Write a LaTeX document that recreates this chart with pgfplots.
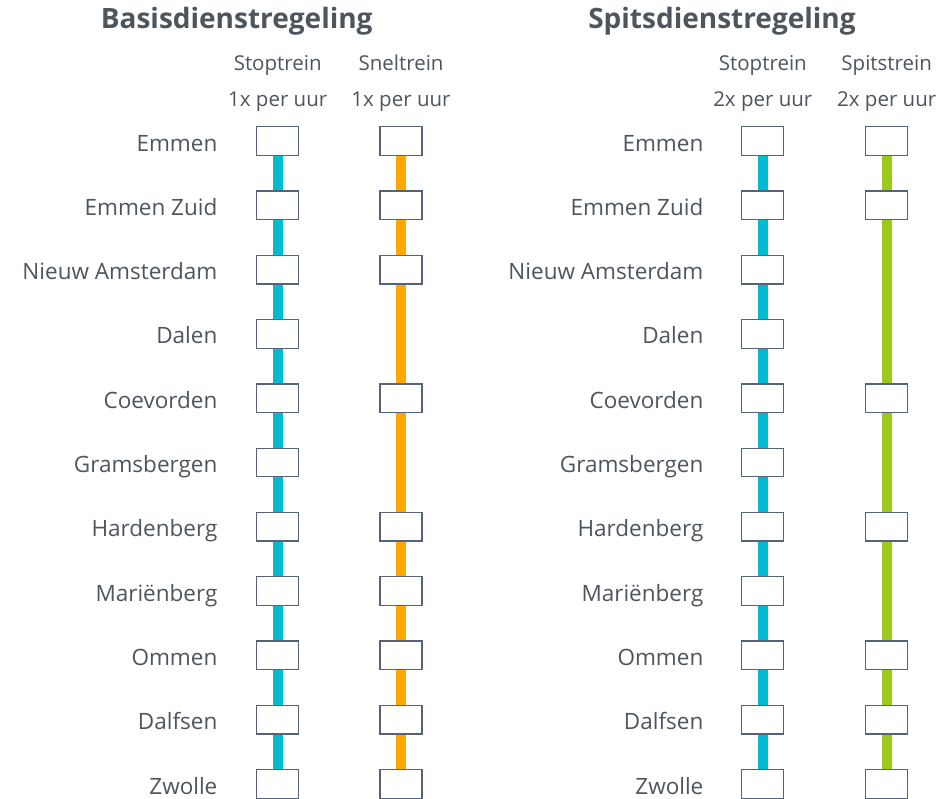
\documentclass[border=0pt]{standalone}
\usepackage{fontspec}
\setmainfont{Open Sans}
\usepackage{pgfplots}
\pgfplotsset{compat=1.18}
\definecolor{txt}{HTML}{4F555C}
\definecolor{boxc}{HTML}{56627A}
\definecolor{cyanl}{HTML}{00BCCE}
\definecolor{orangel}{HTML}{FFA800}
\definecolor{greenl}{HTML}{9ACA1C}
\pgfdeclareplotmark{rbox}{%
  \pgfpathrectangle{\pgfpoint{-21pt}{-14.3pt}}{\pgfpoint{42pt}{28.6pt}}%
  \pgfusepathqfillstroke}
\begin{document}
\begin{tikzpicture}
\begin{axis}[name=ax,
  width=939pt, height=798pt, scale only axis,
  xmin=0, xmax=939, ymin=0, ymax=798, y dir=reverse,
  axis lines=none, clip=false,
  every axis plot/.append style={mark options={fill=white, draw=boxc, line width=1.3pt}},
  stlabel/.style={only marks, mark=none, point meta=explicit symbolic,
    nodes near coords, every node near coord/.style={anchor=base east, text=txt, font=\fontsize{22.5}{26}\selectfont, inner sep=0pt}},
]
% station labels (y = baseline)
\addplot[stlabel] table[col sep=comma, meta=label] {
x,y,label
218,151.0,Emmen
218,215.3,Emmen Zuid
218,279.6,Nieuw Amsterdam
218,343.4,Dalen
218,408.2,Coevorden
218,472.5,Gramsbergen
218,536.8,Hardenberg
218,601.1,Mariënberg
218,665.4,Ommen
218,729.7,Dalfsen
218,794.0,Zwolle
};
\addplot[stlabel] table[col sep=comma, meta=label] {
x,y,label
704,151.0,Emmen
704,215.3,Emmen Zuid
704,279.6,Nieuw Amsterdam
704,343.4,Dalen
704,408.2,Coevorden
704,472.5,Gramsbergen
704,536.8,Hardenberg
704,601.1,Mariënberg
704,665.4,Ommen
704,729.7,Dalfsen
704,794.0,Zwolle
};
% lines
\addplot[cyanl, line width=10pt, mark=none] coordinates {(277.7,141) (277.7,784)};
\addplot[orangel, line width=10pt, mark=none] coordinates {(401,141) (401,784)};
\addplot[cyanl, line width=10pt, mark=none] coordinates {(762.8,141) (762.8,784)};
\addplot[greenl, line width=10pt, mark=none] coordinates {(886.7,141) (886.7,784)};
% stop boxes
\addplot[only marks, mark=rbox] coordinates {
(277.7,141.0) (277.7,205.3) (277.7,269.6) (277.7,333.9) (277.7,398.2) (277.7,462.5)
(277.7,526.8) (277.7,591.1) (277.7,655.4) (277.7,719.7) (277.7,784.0)};
\addplot[only marks, mark=rbox] coordinates {
(401,141.0) (401,205.3) (401,269.6) (401,398.2)
(401,526.8) (401,591.1) (401,655.4) (401,719.7) (401,784.0)};
\addplot[only marks, mark=rbox] coordinates {
(762.8,141.0) (762.8,205.3) (762.8,269.6) (762.8,333.9) (762.8,398.2) (762.8,462.5)
(762.8,526.8) (762.8,591.1) (762.8,655.4) (762.8,719.7) (762.8,784.0)};
\addplot[only marks, mark=rbox] coordinates {
(886.7,141.0) (886.7,205.3) (886.7,398.2)
(886.7,526.8) (886.7,655.4) (886.7,719.7) (886.7,784.0)};
% titles and headers
\node[anchor=base, text=txt, font=\fontsize{28}{32}\selectfont\bfseries] at (axis cs:236.7,28.3) {Basisdienstregeling};
\node[anchor=base, text=txt, font=\fontsize{28}{32}\selectfont\bfseries] at (axis cs:722,28.3) {Spitsdienstregeling};
\node[anchor=base, text=txt, font=\fontsize{20.5}{24}\selectfont] at (axis cs:277.7,70.7) {Stoptrein};
\node[anchor=base, text=txt, font=\fontsize{20.5}{24}\selectfont] at (axis cs:401,70.7) {Sneltrein};
\node[anchor=base, text=txt, font=\fontsize{20.5}{24}\selectfont] at (axis cs:277.7,106.3) {1x per uur};
\node[anchor=base, text=txt, font=\fontsize{20.5}{24}\selectfont] at (axis cs:401,106.3) {1x per uur};
\node[anchor=base, text=txt, font=\fontsize{20.5}{24}\selectfont] at (axis cs:762.8,70.7) {Stoptrein};
\node[anchor=base, text=txt, font=\fontsize{20.5}{24}\selectfont] at (axis cs:886.7,70.7) {Spitstrein};
\node[anchor=base, text=txt, font=\fontsize{20.5}{24}\selectfont] at (axis cs:762.8,106.3) {2x per uur};
\node[anchor=base, text=txt, font=\fontsize{20.5}{24}\selectfont] at (axis cs:886.7,106.3) {2x per uur};
\end{axis}
\pgfresetboundingbox
\path (ax.south west) rectangle (ax.north east);
\end{tikzpicture}
\end{document}
